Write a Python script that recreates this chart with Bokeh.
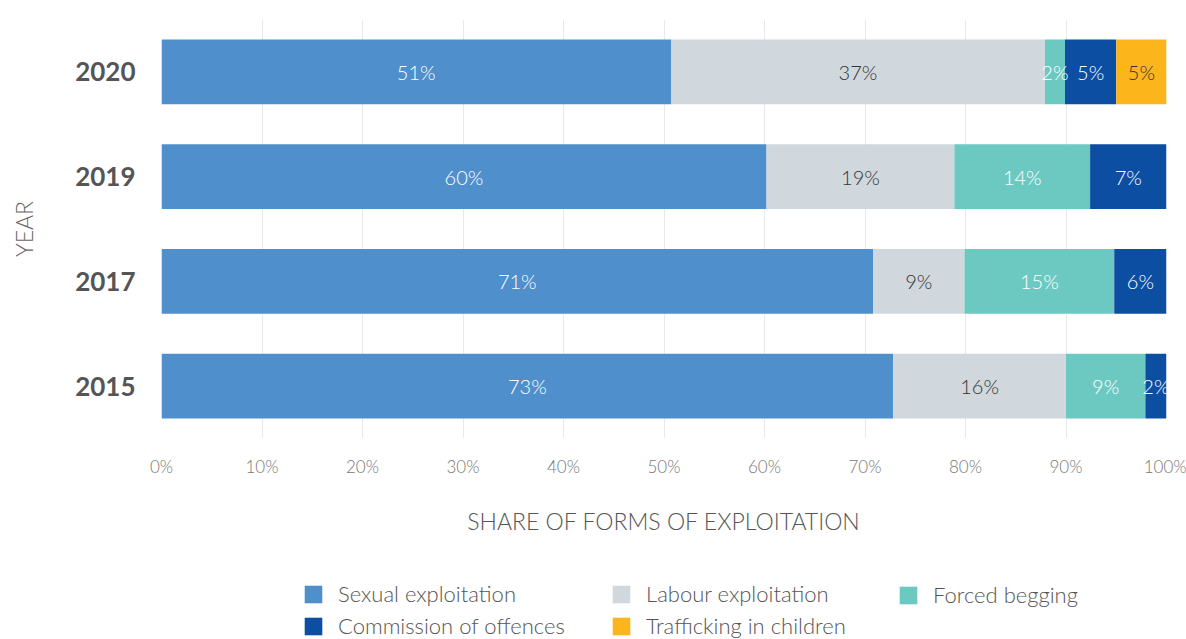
from bokeh.plotting import figure
from bokeh.layouts import column
from bokeh.models import ColumnDataSource, Legend, LegendItem, FactorRange, Range1d, FixedTicker, PrintfTickFormatter
from bokeh.core.properties import value
from bokeh.embed import file_html
from bokeh.resources import INLINE

years = ["2015", "2017", "2019", "2020"]
series = ["Sexual exploitation", "Labour exploitation", "Forced begging",
          "Commission of offences", "Trafficking in children"]
sexual = [72.8, 70.8, 60.2, 50.7]
labour = [17.2, 9.1, 18.7, 37.2]
forced = [7.9, 14.9, 13.5, 2.0]
commission = [2.1, 5.2, 7.6, 5.1]
trafficking = [0.0, 0.0, 0.0, 5.0]
sexual_lbl = ["73%", "71%", "60%", "51%"]
labour_lbl = ["16%", "9%", "19%", "37%"]
forced_lbl = ["9%", "15%", "14%", "2%"]
commission_lbl = ["2%", "6%", "7%", "5%"]
trafficking_lbl = ["", "", "", "5%"]
x_ticks = [0, 10, 20, 30, 40, 50, 60, 70, 80, 90, 100]

colors = ["#4F8FCC", "#D0D8DE", "#6CC9C2", "#0B4EA2", "#FDB51C"]
text_colors = ["#FFFFFF", "#333333", "#FFFFFF", "#FFFFFF", "#333333"]
FONT = "Lato Light"
BOLD = "Lato"

keys = ["s", "l", "f", "c", "t"]
vals = [sexual, labour, forced, commission, trafficking]
lbls = [sexual_lbl, labour_lbl, forced_lbl, commission_lbl, trafficking_lbl]
data = {"year": years}
for k, v in zip(keys, vals):
    data[k] = v
src = ColumnDataSource(data)

p = figure(y_range=FactorRange(*years), x_range=Range1d(0, 100),
           width=1186, height=575, output_backend="svg", toolbar_location=None,
           min_border_left=161, min_border_right=20, min_border_top=19, min_border_bottom=137)

rs = p.hbar_stack(keys, y="year", height=0.62, color=colors, line_color=None, source=src)

# segment labels
lx, ly, lt, lc = [], [], [], []
for i, y in enumerate(years):
    start = 0.0
    for j in range(len(keys)):
        w = vals[j][i]
        if w > 0 and lbls[j][i]:
            lx.append(start + w / 2)
            ly.append(y)
            lt.append(lbls[j][i])
            lc.append(text_colors[j])
        start += w
lsrc = ColumnDataSource(dict(x=lx, y=ly, text=lt, color=lc))
p.text(x="x", y="y", text="text", text_color="color", source=lsrc,
       text_align="center", text_baseline="middle", text_font=value(FONT),
       text_font_size="20px")

p.outline_line_color = None
p.ygrid.visible = False
p.xgrid.grid_line_color = "#E6E9EE"
p.xgrid.grid_line_width = 1

xa = p.xaxis[0]
xa.ticker = FixedTicker(ticks=x_ticks)
xa.formatter = PrintfTickFormatter(format="%d%%")
xa.axis_line_color = None
xa.major_tick_line_color = None
xa.minor_tick_line_color = None
xa.major_label_text_font = FONT
xa.major_label_text_font_size = "17px"
xa.major_label_text_color = "#777777"
xa.major_label_standoff = 11
xa.axis_label = "SHARE OF FORMS OF EXPLOITATION"
xa.axis_label_text_font = FONT
xa.axis_label_text_font_style = "normal"
xa.axis_label_text_font_size = "23px"
xa.axis_label_text_color = "#555555"
xa.axis_label_standoff = 27

ya = p.yaxis[0]
ya.axis_line_color = None
ya.major_tick_line_color = None
ya.minor_tick_line_color = None
ya.major_label_text_font = BOLD
ya.major_label_text_font_style = "bold"
ya.major_label_text_font_size = "26px"
ya.major_label_text_color = "#555555"
ya.major_label_standoff = 20
ya.axis_label = "YEAR"
ya.axis_label_text_font = FONT
ya.axis_label_text_font_style = "normal"
ya.axis_label_text_font_size = "23px"
ya.axis_label_text_color = "#666666"
ya.axis_label_standoff = 34

# legend figure below the chart (one legend per column); its frame is aligned with the chart's frame
lg = figure(width=1186, height=64, x_range=Range1d(0, 1), y_range=Range1d(0, 1),
            output_backend="svg", toolbar_location=None, min_border=0)
lg.axis.visible = False
lg.grid.visible = False
lg.outline_line_color = None
dummies = [lg.hbar(y=[-10], right=[-10], height=0.5, color=c, line_color=None) for c in colors]
legend_cols = [([0, 3], (141, 0)), ([1, 4], (449, 0)), ([2], (736, 31))]
for idx, loc in legend_cols:
    items = [LegendItem(label=series[k], renderers=[dummies[k]]) for k in idx]
    legend = Legend(items=items, orientation="vertical", location=loc,
                    label_text_font=FONT, label_text_font_size="22px",
                    label_text_color="#555555", glyph_width=22, glyph_height=22,
                    label_standoff=14, spacing=5,
                    border_line_color=None, background_fill_alpha=0, margin=0, padding=0)
    lg.add_layout(legend, "center")

open("out.html", "w").write(file_html(column(p, lg, spacing=0), INLINE))
